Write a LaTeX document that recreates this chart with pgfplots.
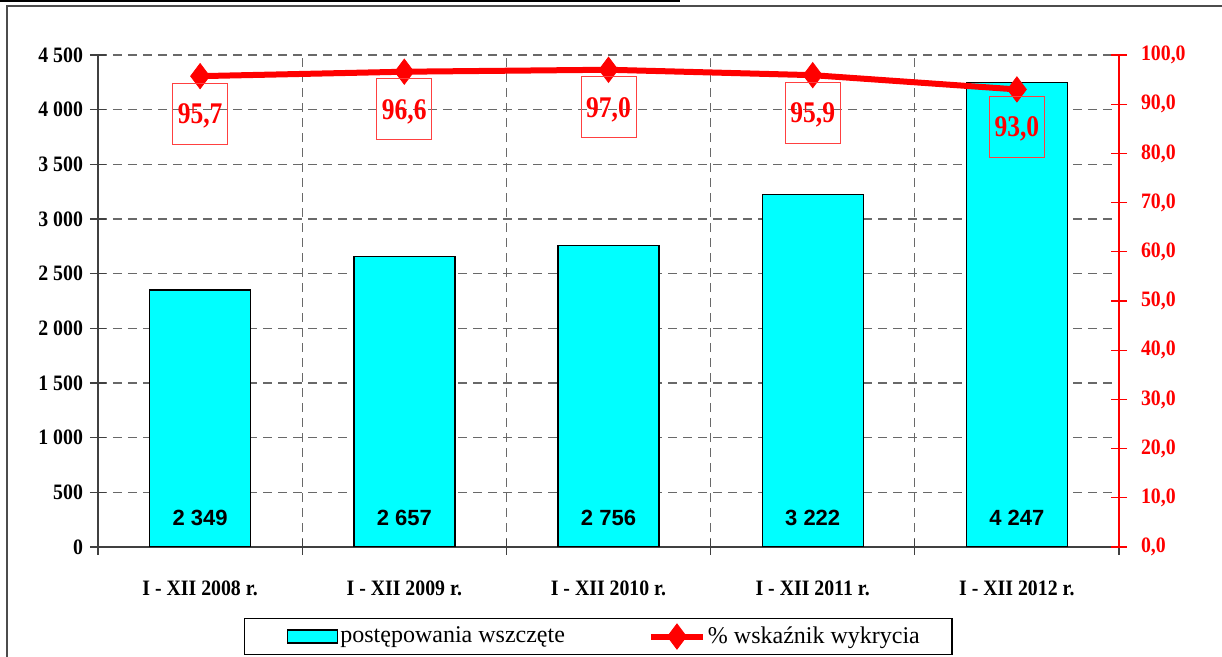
\documentclass[border=0pt]{standalone}
\usepackage{fontspec}
\setmainfont{Liberation Serif}
\newfontfamily\arial{Liberation Sans}
\newfontfamily\condserif[FakeStretch=0.9]{Liberation Serif}
\newfontfamily\labelserif[FakeStretch=0.85]{Liberation Serif}
\usepackage{pgfplots}
\pgfplotsset{compat=1.18}

\definecolor{barcyan}{RGB}{0,255,255}
\definecolor{gridgray}{RGB}{105,105,105}

\newcommand{\tickfont}{\condserif\bfseries\fontsize{11}{13}\selectfont}

\pgfplotsset{
  box legend/.style={legend image code/.code={%
      \path[draw=none, fill=none] (0pt,0pt) -- (1pt,0pt);
      \draw[##1] (6.5pt,-3.25pt) rectangle (31.5pt,3.25pt);}},
  diamond legend/.style={legend image code/.code={\draw[mark repeat=2, mark phase=2, ##1]
      plot coordinates {(0pt,0pt) (13pt,0pt) (26pt,0pt)};}},
}

\begin{document}
\begin{tikzpicture}
% 1 px of the reference = 0.5pt, origin = lower left corner of the plot area
\path[use as bounding box] (-49pt,-55pt) rectangle (562pt,273.5pt);
\draw[line width=0.8pt, black!70] (-45.5pt,-60pt) -- (-45.5pt,270.5pt) -- (570pt,270.5pt);
\draw[line width=1.4pt] (-49pt,273.3pt) -- (291pt,273.3pt);

\begin{axis}[
    scale only axis,
    width=510.5pt, height=246pt,
    xmin=-0.5, xmax=4.5,
    ymin=0, ymax=4500,
    axis x line=bottom, axis y line=left,
    axis line style={-, black!75, line width=0.6pt},
    xtick={-0.5,0.5,...,4.5},
    x tick label as interval,
    xticklabels={I - XII 2008 r., I - XII 2009 r., I - XII 2010 r., I - XII 2011 r., I - XII 2012 r.},
    ytick={0,500,...,4500},
    tick align=center,
    major tick length=8pt,
    tick style={black!75, line width=0.6pt},
    grid=major,
    grid style={dash pattern=on 4.5pt off 3pt, gridgray, line width=0.6pt},
    scaled y ticks=false,
    /pgf/number format/assume math mode=true,
    yticklabel style={font=\tickfont, /pgf/number format/1000 sep={\ }},
    xticklabel style={font=\tickfont, yshift=-9.5pt},
  ]
  \addplot[ybar, bar width=50.5pt, fill=barcyan, draw=black, line width=0.7pt]
    coordinates {(0,2349) (1,2657) (2,2756) (3,3222) (4,4247)};
  % value labels at the foot of each bar
  \addplot[draw=none, nodes near coords, point meta=explicit symbolic,
    every node near coord/.append style={anchor=center, text=black,
      font=\arial\bfseries\fontsize{11}{13}\selectfont}]
    coordinates {(0,265) [2 349] (1,265) [2 657] (2,265) [2 756] (3,265) [3 222] (4,265) [4 247]};
\end{axis}

\begin{axis}[
    scale only axis,
    width=510.5pt, height=246pt,
    xmin=-0.5, xmax=4.5,
    ymin=0, ymax=100,
    axis x line=none, axis y line=right,
    axis line style={-, red, line width=0.6pt},
    ytick={0,10,...,100},
    tick align=center,
    major tick length=8pt,
    tick style={red, line width=0.6pt},
    /pgf/number format/assume math mode=true,
    yticklabel style={text=red, font=\tickfont, xshift=3.5pt,
      /pgf/number format/.cd, fixed, fixed zerofill, precision=1, use comma},
    legend columns=2,
    legend cell align=left,
    legend style={at={(0.49,-0.182)}, anchor=center, draw=black, line width=0.6pt,
      font=\fontsize{12}{14}\selectfont,
      inner xsep=15pt, inner ysep=2pt,
      nodes={inner xsep=1pt, inner ysep=2pt},
      /tikz/every odd column/.style={column sep=0pt},
      /tikz/every even column/.style={column sep=40.5pt}},
  ]
  \addlegendimage{box legend, fill=barcyan, draw=black, line width=0.7pt}
  \addlegendentry{postępowania wszczęte}
  \addplot[red, line width=3pt, mark=diamond*,
    mark options={solid, fill=red, line width=0.4pt}, mark size=6.3pt,
    diamond legend,
    nodes near coords, point meta=y,
    every node near coord/.append style={anchor=center, yshift=-18.75pt,
      text=red, draw=red!75, line width=0.5pt, minimum width=27.5pt, minimum height=30.5pt,
      inner sep=1pt, text depth=0pt, font=\labelserif\bfseries\fontsize{15}{17}\selectfont,
      /pgf/number format/.cd, fixed, fixed zerofill, precision=1, use comma},
    coordinate style/.condition={x>3.5}{draw=gray}]
    coordinates {(0,95.7) (1,96.6) (2,97.0) (3,95.9) (4,93.0)};
  \addlegendentry{\% wskaźnik wykrycia}
\end{axis}
\end{tikzpicture}
\end{document}
